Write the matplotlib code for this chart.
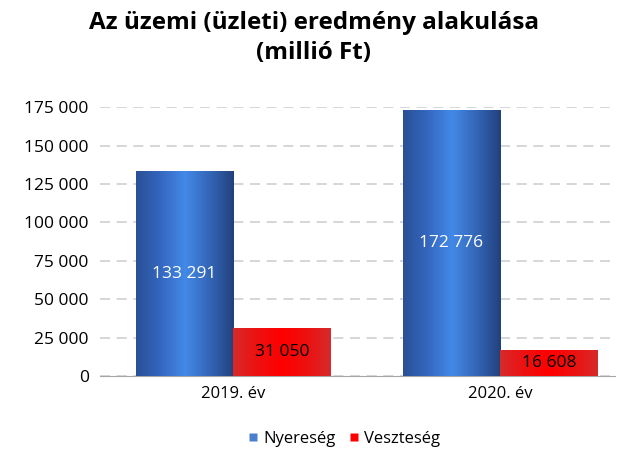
import numpy as np
import matplotlib.pyplot as plt
import matplotlib.colors as mcolors
from matplotlib.lines import Line2D

# Adatok (millió Ft)
evek = ["2019. év", "2020. év"]
nyereseg = [133291, 172776]
veszteseg = [31050, 16608]
y_ticks = [0, 25000, 50000, 75000, 100000, 125000, 150000, 175000]


def fmt(v):
    return f"{v:,.0f}".replace(",", " ")


plt.rcParams['font.family'] = ['Open Sans', 'DejaVu Sans']

fig = plt.figure(figsize=(6.28, 4.5), dpi=100)
ax = fig.add_axes([0.159, 0.164, 0.82, 0.598])

# színátmenetes oszlopok
kek = mcolors.LinearSegmentedColormap.from_list(
    "kek", ["#2a4f95", "#3467c0", "#4389e8", "#3466b8", "#22417c"])
piros = mcolors.LinearSegmentedColormap.from_list(
    "piros", ["#d62a2a", "#ee1010", "#ff0000", "#ee1010", "#d62a2a"])
grad = np.linspace(0, 1, 256).reshape(1, -1)

x = np.arange(len(evek))
w = 0.365
for xi, v in zip(x, nyereseg):
    ax.imshow(grad, extent=[xi - w, xi, 0, v], aspect='auto', cmap=kek, zorder=3)
    ax.text(xi - w / 2, v / 2, fmt(v), ha='center', va='center',
            color='white', fontsize=12.5, zorder=4)
for xi, v in zip(x, veszteseg):
    ax.imshow(grad, extent=[xi, xi + w, 0, v], aspect='auto', cmap=piros, zorder=3)
    ax.text(xi + w / 2, v / 2, fmt(v), ha='center', va='center',
            color='black', fontsize=12.5, zorder=4)

ax.set_xlim(-0.5, 1.43)
ax.set_ylim(0, 175000)
ax.set_yticks(y_ticks)
ax.set_yticklabels([fmt(t) for t in y_ticks], fontsize=12.5)
ax.set_xticks(x)
ax.set_xticklabels(evek, fontsize=12)
ax.tick_params(length=0, pad=8)
ax.tick_params(axis='x', pad=7)

ax.grid(axis='y', color='#cfcfcf', linestyle=(0, (6, 4)), linewidth=1.2, zorder=0)
for s in ['top', 'right', 'left']:
    ax.spines[s].set_visible(False)
ax.spines['bottom'].set_color('#a6a6a6')
ax.set_axisbelow(True)

fig.suptitle("Az üzemi (üzleti) eredmény alakulása\n(millió Ft)",
             fontsize=17.5, fontweight='bold', y=0.975, linespacing=1.3)

handles = [
    Line2D([], [], marker='s', color='none', markerfacecolor='#4a7fd0',
           markeredgecolor='none', markersize=6, label='Nyereség'),
    Line2D([], [], marker='s', color='none', markerfacecolor='#ff0000',
           markeredgecolor='none', markersize=6, label='Veszteség'),
]
fig.legend(handles=handles, loc='center', bbox_to_anchor=(0.545, 0.025),
           ncol=2, frameon=False, fontsize=12, handletextpad=0.1,
           columnspacing=0.6, handlelength=1.0)

fig.savefig("out.png", dpi=100)
